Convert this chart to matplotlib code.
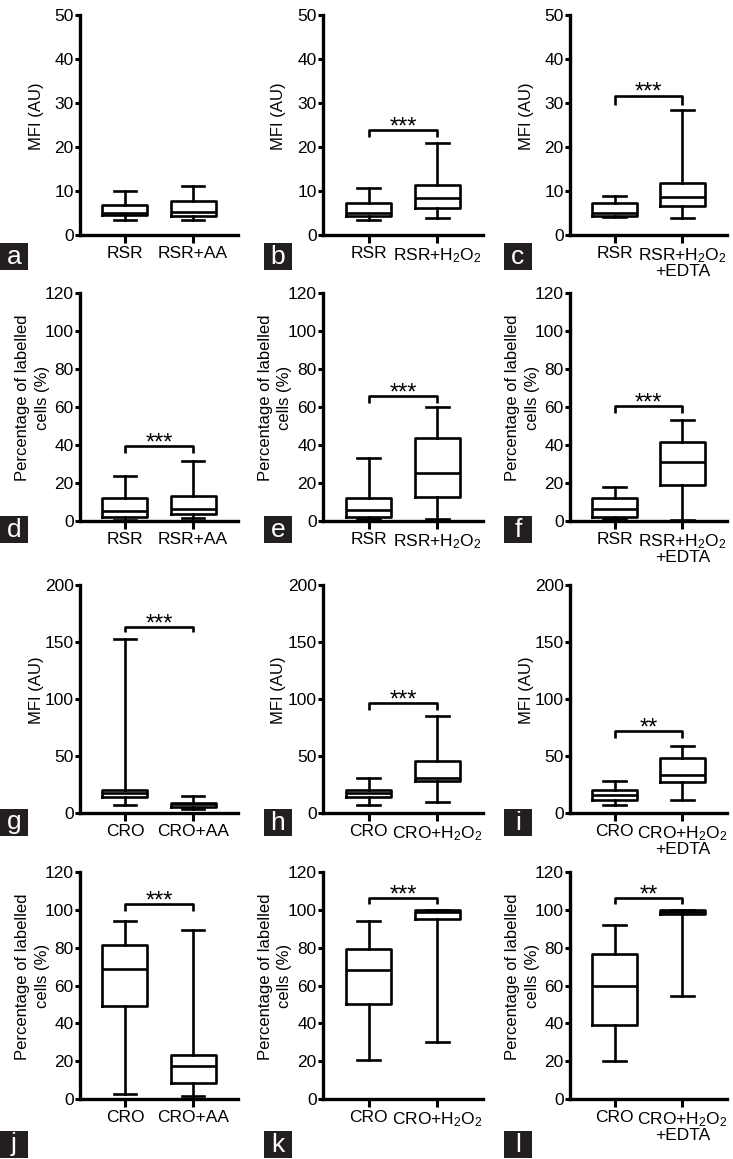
import matplotlib
matplotlib.use("Agg")
import matplotlib.pyplot as plt
from matplotlib.patches import Rectangle
from matplotlib.transforms import ScaledTranslation

plt.rcParams['font.family'] = ['Liberation Sans', 'DejaVu Sans']
plt.rcParams['mathtext.fontset'] = 'custom'
plt.rcParams['mathtext.rm'] = 'Liberation Sans'
plt.rcParams['mathtext.it'] = 'Liberation Sans:italic'

# ===============================
# Data
# ===============================
panel_letters = ['a', 'b', 'c', 'd', 'e', 'f', 'g', 'h', 'i', 'j', 'k', 'l']

H2O2 = 'H$_2$O$_2$'
group_labels = [
    ['RSR', 'RSR+AA'], ['RSR', 'RSR+' + H2O2], ['RSR', 'RSR+' + H2O2 + '\n+EDTA'],
    ['RSR', 'RSR+AA'], ['RSR', 'RSR+' + H2O2], ['RSR', 'RSR+' + H2O2 + '\n+EDTA'],
    ['CRO', 'CRO+AA'], ['CRO', 'CRO+' + H2O2], ['CRO', 'CRO+' + H2O2 + '\n+EDTA'],
    ['CRO', 'CRO+AA'], ['CRO', 'CRO+' + H2O2], ['CRO', 'CRO+' + H2O2 + '\n+EDTA'],
]

whisker_low = [[3.5, 3.5], [3.5, 3.9], [4.1, 3.8],
               [0.5, 1.4], [0.9, 0.9], [0.9, 0.5],
               [7.3, 3.5], [7.0, 9.3], [7.3, 11.7],
               [2.5, 1.4], [20.6, 30.3], [20.3, 54.7]]
quart_1 = [[4.5, 4.3], [4.4, 6.2], [4.4, 6.7],
           [1.9, 3.5], [2.1, 12.8], [2.3, 19.0],
           [14.0, 5.5], [14.0, 27.7], [11.1, 26.9],
           [48.9, 8.5], [50.0, 95.0], [39.2, 97.9]]
median = [[5.0, 5.2], [5.1, 8.5], [5.0, 8.6],
          [5.4, 6.3], [5.6, 25.5], [6.3, 31.3],
          [17.5, 7.5], [17.5, 30.7], [16.0, 33.6],
          [68.5, 17.6], [68.1, 99.0], [60.0, 98.8]]
quart_3 = [[6.8, 7.8], [7.2, 11.3], [7.3, 11.9],
           [12.0, 13.2], [12.3, 43.9], [12.3, 41.8],
           [20.4, 9.0], [20.4, 45.8], [20.4, 48.2],
           [81.5, 23.3], [79.5, 99.8], [76.4, 99.9]]
whisker_high = [[10.0, 11.2], [10.7, 21.0], [8.8, 28.4],
                [23.9, 31.8], [33.4, 59.8], [17.8, 52.9],
                [153.0, 15.0], [30.7, 84.7], [28.3, 58.4],
                [94.0, 89.6], [94.0, 100.0], [91.8, 100.0]]

# significance brackets: bar height, leg end, stars (None = no bracket)
sig_bar = [None, 23.8, 31.7, 39.5, 65.6, 60.6, 163.5, 96.4, 71.5, 102.9, 106.3, 106.2]
sig_leg = [None, 22.2, 29.5, 35.7, 62.0, 56.8, 158.5, 90.5, 65.7, 99.2, 103.3, 103.2]
sig_text = [None, '***', '***', '***', '***', '***', '***', '***', '**', '***', '***', '**']

y_max = [50, 50, 50, 120, 120, 120, 200, 200, 200, 120, 120, 120]
y_step = [10, 10, 10, 20, 20, 20, 50, 50, 50, 20, 20, 20]
row_ylabels = ['MFI (AU)', 'Percentage of labelled\ncells (%)',
               'MFI (AU)', 'Percentage of labelled\ncells (%)']

# ===============================
# Layout (pixels)
# ===============================
W, H = 733, 1159
col_left = [80, 323, 570]
col_width = [158, 160, 157]
row_top = [15, 293, 585, 872]
row_bottom = [235, 521, 813, 1099]
row_label_x = [-0.275, -0.30, -0.275, -0.30]
tag_x = [0, 264, 504]
tag_y = [243, 516, 809, 1131]

fig = plt.figure(figsize=(W / 100, H / 100), dpi=100)
shift = ScaledTranslation(8 / 100, 0, fig.dpi_scale_trans)

LW = 1.9
FS = 12.5
for k in range(12):
    r, c = k // 3, k % 3
    ax = fig.add_axes([col_left[c] / W, 1 - row_bottom[r] / H,
                       col_width[c] / W, (row_bottom[r] - row_top[r]) / H])

    stats = []
    for g in range(2):
        stats.append(dict(whislo=whisker_low[k][g], q1=quart_1[k][g], med=median[k][g],
                          q3=quart_3[k][g], whishi=whisker_high[k][g]))
    line = dict(color='black', linewidth=LW)
    ax.bxp(stats, positions=[0, 1], widths=0.66, capwidths=0.33, showfliers=False,
           boxprops=line, whiskerprops=line, capprops=line,
           medianprops=dict(color='black', linewidth=LW))

    if sig_bar[k] is not None:
        ax.plot([0, 0, 1, 1], [sig_leg[k], sig_bar[k], sig_bar[k], sig_leg[k]],
                color='black', linewidth=LW, solid_capstyle='butt')
        ax.annotate(sig_text[k], xy=(0.5, sig_bar[k]), xytext=(0, -2.5),
                    textcoords='offset points', ha='center', va='baseline',
                    fontsize=17)

    ax.set_xlim(-0.66, 1.66)
    ax.set_ylim(0, y_max[k])
    ax.set_yticks(range(0, y_max[k] + 1, y_step[k]))
    ax.set_xticks([0, 1])
    ax.set_xticklabels(group_labels[k], fontsize=FS, linespacing=0.95)
    for lbl in ax.get_xticklabels():
        if 'H$' in lbl.get_text():
            lbl.set_transform(lbl.get_transform() + shift)

    for s in ['top', 'right']:
        ax.spines[s].set_visible(False)
    for s in ['left', 'bottom']:
        ax.spines[s].set_linewidth(2.4)
    ax.tick_params(axis='y', length=3.5, width=2.2, pad=1, labelsize=FS)
    ax.tick_params(axis='x', length=6, width=2.2, pad=2)

    ax.set_ylabel(row_ylabels[r], fontsize=12, va='center', linespacing=1.4)
    ax.yaxis.set_label_coords(row_label_x[r], 0.54)

    # panel letter tag
    fig.add_artist(Rectangle((tag_x[c] / W, 1 - (tag_y[r] + 27) / H), 28 / W, 27 / H,
                             transform=fig.transFigure, facecolor='#231f20',
                             edgecolor='none'))
    fig.text((tag_x[c] + 14) / W, 1 - (tag_y[r] + 13.5) / H, panel_letters[k],
             color='white', fontsize=19, ha='center', va='center')

fig.savefig("out.png", dpi=100)
plt.close(fig)
